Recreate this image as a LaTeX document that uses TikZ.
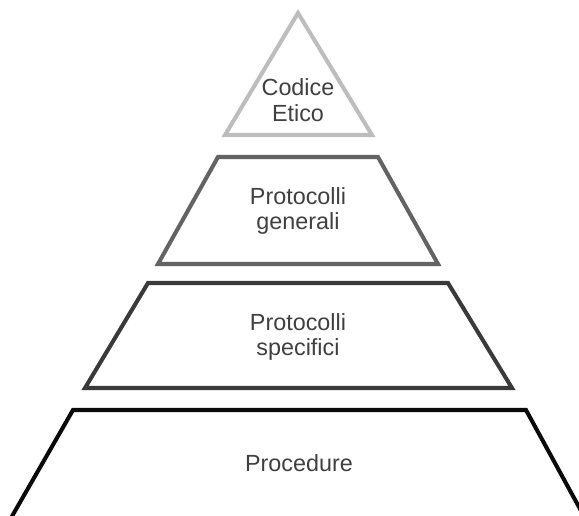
\documentclass[tikz,border=0pt]{standalone}
\usepackage{fontspec}
\setmainfont{Liberation Sans}
\usepackage{tikz}

\definecolor{lvlone}{HTML}{BDBDBD}
\definecolor{lvltwo}{HTML}{636363}
\definecolor{lvlthree}{HTML}{3A3A3A}
\definecolor{lvlfour}{HTML}{0A0A0A}
\definecolor{labelgray}{HTML}{404040}

\begin{document}
\begin{tikzpicture}[x=0.02cm, y=-0.02cm,
    level/.style={line width=2.3pt, fill=white},
    label/.style={align=center, text=labelgray, inner sep=0pt,
        font=\fontsize{13.3}{14.4}\selectfont}]

\useasboundingbox (0,0) rectangle (579,515);

% Codice etico (top)
\draw[level, draw=lvlone] (298,13) -- (372,135) -- (225,135) -- cycle;
\node[label] (codice) at (298,100) {Codice\\Etico};

% Protocolli generali
\draw[level, draw=lvltwo] (218,157) -- (378,157) -- (438,264) -- (158,264) -- cycle;
\node[label] (generali) at (298,211) {Protocolli\\generali};

% Protocolli specifici
\draw[level, draw=lvlthree] (148,283) -- (448,283) -- (512,388) -- (85,388) -- cycle;
\node[label] (specifici) at (298,337) {Protocolli\\specifici};

% Procedure (base, cut by the page edge)
\begin{scope}
\clip (0,0) rectangle (579,515);
\draw[level, draw=lvlfour] (11,518) -- (73,410) -- (526,410) -- (585,518);
\end{scope}
\node[label] (procedure) at (299,463) {Procedure};

\end{tikzpicture}
\end{document}
